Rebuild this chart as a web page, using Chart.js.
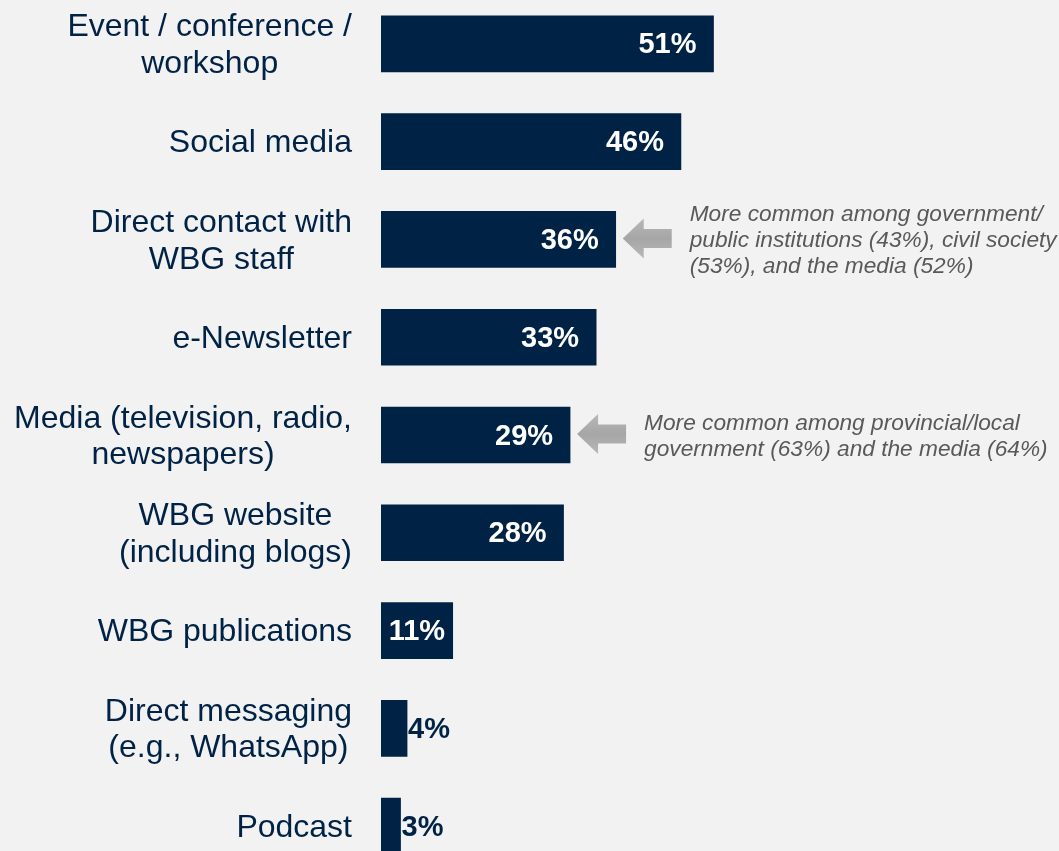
<!DOCTYPE html>
<html>
<head>
<meta charset="utf-8">
<script src="https://cdn.jsdelivr.net/npm/chart.js@4/dist/chart.umd.min.js"></script>
<style>
  html, body { margin: 0; padding: 0; background: #f2f2f2; overflow: hidden; width: 1059px; height: 851px; }
  #wrap { position: absolute; left: 0; top: -5px; width: 1059px; height: 880px; }
</style>
</head>
<body>
<div id="wrap"><canvas id="c" width="1059" height="880"></canvas></div>
<script>
const categories = [
  ["Event / conference /", "workshop"],
  ["Social media"],
  ["Direct contact with", "WBG staff"],
  ["e-Newsletter"],
  ["Media (television, radio,", "newspapers)"],
  ["WBG website", "(including blogs)"],
  ["WBG publications"],
  ["Direct messaging", "(e.g., WhatsApp)"],
  ["Podcast"]
];
const values = [51, 46, 36, 33, 29, 28, 11, 4, 3];
const noteIndex = [2, 4];
const noteLines = [
  ["More common among government/", "public institutions (43%), civil society", "(53%), and the media (52%)"],
  ["More common among provincial/local", "government (63%) and the media (64%)"]
];

const NAVY = '#002245';
const FONT = '"Liberation Sans", Arial, sans-serif';

const drawPlugin = {
  id: 'custom',
  afterDatasetsDraw(chart) {
    const ctx = chart.ctx;
    const xs = chart.scales.x, ys = chart.scales.y;
    const x0 = xs.getPixelForValue(0);
    ctx.save();
    // category labels
    ctx.font = '32px ' + FONT;
    ctx.fillStyle = NAVY;
    ctx.textBaseline = 'middle';
    ctx.textAlign = 'center';
    categories.forEach((lines, i) => {
      const c = ys.getPixelForValue(i) + 2;
      const w = Math.max(...lines.map(l => ctx.measureText(l).width));
      const cx = 352 - w / 2;
      const lh = 36.5;
      lines.forEach((l, k) => {
        const y = c + (k - (lines.length - 1) / 2) * lh;
        ctx.fillText(l, cx, y);
      });
    });
    // value labels
    ctx.font = 'bold 29px ' + FONT;
    values.forEach((v, i) => {
      const c = ys.getPixelForValue(i) + 1.5;
      const xe = xs.getPixelForValue(v);
      const txt = v + '%';
      const tw = ctx.measureText(txt).width;
      const bw = xe - x0;
      if (tw + 8 <= bw) {
        const pad = Math.min(17, (bw - tw) / 2);
        ctx.fillStyle = '#ffffff';
        ctx.textAlign = 'right';
        ctx.fillText(txt, xe - pad, c);
      } else {
        ctx.fillStyle = NAVY;
        ctx.textAlign = 'left';
        ctx.fillText(txt, xe + 1, c);
      }
    });
    // annotations
    noteIndex.forEach((idx, n) => {
      const c = ys.getPixelForValue(idx);
      const xe = xs.getPixelForValue(values[idx]);
      const tip = xe + 7;
      const ay = c - 1;
      const L = 49, H = 40, HL = 21, SH = 19;
      const g = ctx.createLinearGradient(0, ay - H / 2, 0, ay + H / 2);
      g.addColorStop(0, '#b8b8b8');
      g.addColorStop(0.5, '#a6a6a6');
      g.addColorStop(1, '#b8b8b8');
      ctx.fillStyle = g;
      ctx.beginPath();
      ctx.moveTo(tip, ay);
      ctx.lineTo(tip + HL, ay - H / 2);
      ctx.lineTo(tip + HL, ay - SH / 2);
      ctx.lineTo(tip + L, ay - SH / 2);
      ctx.lineTo(tip + L, ay + SH / 2);
      ctx.lineTo(tip + HL, ay + SH / 2);
      ctx.lineTo(tip + HL, ay + H / 2);
      ctx.closePath();
      ctx.fill();
      ctx.font = 'italic 22.7px ' + FONT;
      ctx.fillStyle = '#595959';
      ctx.textAlign = 'left';
      ctx.textBaseline = 'middle';
      const lines = noteLines[n];
      const lh = 26;
      lines.forEach((l, k) => {
        const y = c + 1.5 + (k - (lines.length - 1) / 2) * lh;
        ctx.fillText(l, tip + 67, y);
      });
    });
    ctx.restore();
  }
};

new Chart(document.getElementById('c'), {
  type: 'bar',
  data: {
    labels: categories,
    datasets: [{
      data: values,
      backgroundColor: NAVY,
      borderWidth: 0,
      barThickness: 56
    }]
  },
  options: {
    indexAxis: 'y',
    responsive: false,
    animation: false,
    layout: { padding: { left: 381, right: 26, top: 0, bottom: 0 } },
    plugins: { legend: { display: false }, tooltip: { enabled: false } },
    scales: {
      x: { display: false, min: 0, max: 100 },
      y: { display: false, offset: true, grid: { display: false } }
    }
  },
  plugins: [drawPlugin]
});
</script>
</body>
</html>
